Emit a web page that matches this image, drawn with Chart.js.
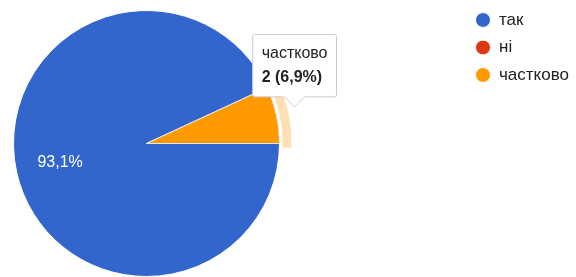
<!DOCTYPE html>
<html>
<head>
<meta charset="utf-8">
<script src="https://cdn.jsdelivr.net/npm/chart.js@4/dist/chart.umd.min.js"></script>
<style>
  body { margin: 0; background: #fff; }
  #wrap { width: 576px; height: 277px; position: relative; }
</style>
</head>
<body>
<div id="wrap"><canvas id="pie"></canvas></div>
<script>
'use strict';

const labels = ['так', 'ні', 'частково'];
const values = [27, 0, 2];
const colors = ['#3366cc', '#dc3912', '#ff9900'];
const hoverRing = 'rgba(255,153,0,0.3)';
const fontFamily = '"Liberation Sans", Arial, sans-serif';

const total = values.reduce((a, b) => a + b, 0);

function pct(v){
    return (v / total * 100).toFixed(1).replace('.', ',') + '%';
}

// white percent text inside big slices
const sliceLabels = {
    id: 'sliceLabels',
    afterDatasetsDraw(chart){
        const ctx = chart.ctx;
        chart.getDatasetMeta(0).data.forEach((arc, i) => {
            if(values[i] / total < 0.1)
                return;
            const p = arc.getProps(['x', 'y', 'startAngle', 'endAngle', 'outerRadius'], true);
            const mid = (p.startAngle + p.endAngle) / 2;
            const r = p.outerRadius * 0.665;
            ctx.save();
            ctx.fillStyle = '#fff';
            ctx.font = '16px ' + fontFamily;
            ctx.textAlign = 'center';
            ctx.textBaseline = 'middle';
            ctx.fillText(pct(values[i]), p.x + Math.cos(mid) * r, p.y + Math.sin(mid) * r);
            ctx.restore();
        });
    }
};

// light band round the hovered slice
const hoverBand = {
    id: 'hoverBand',
    afterDatasetsDraw(chart){
        const ctx = chart.ctx;
        chart.getActiveElements().forEach(a => {
            const p = a.element.getProps(['x', 'y', 'startAngle', 'endAngle', 'outerRadius'], true);
            ctx.save();
            ctx.beginPath();
            ctx.arc(p.x, p.y, p.outerRadius + 12, p.startAngle - 0.03, p.endAngle + 0.03);
            ctx.arc(p.x, p.y, p.outerRadius + 3, p.endAngle + 0.03, p.startAngle - 0.03, true);
            ctx.closePath();
            ctx.fillStyle = hoverRing;
            ctx.fill();
            ctx.restore();
        });
    }
};

// legend sits far right, away from the pie
const moveLegend = {
    id: 'moveLegend',
    afterLayout(chart){
        const lg = chart.legend;
        const h = lg.height;
        lg.left = 465;
        lg.right = chart.width;
        lg.width = lg.right - lg.left;
        lg.top = 1;
        lg.bottom = lg.top + h;
    }
};

Chart.Tooltip.positioners.slice = function(elements){
    if(!elements.length)
        return false;
    const p = elements[0].element.getProps(['x', 'y', 'startAngle', 'endAngle', 'outerRadius'], true);
    const mid = (p.startAngle + p.endAngle) / 2 - 0.05;
    const r = p.outerRadius + 6;
    return { x: p.x + Math.cos(mid) * r + 14, y: p.y + Math.sin(mid) * r };
};

const chart = new Chart(document.getElementById('pie'), {
    type: 'pie',
    data: {
        labels: labels,
        datasets: [{
            data: values,
            backgroundColor: colors,
            hoverBackgroundColor: colors,
            borderColor: '#fff',
            borderWidth: 1,
            hoverBorderWidth: 1,
            hoverOffset: 0
        }]
    },
    options: {
        responsive: true,
        maintainAspectRatio: false,
        animation: false,
        rotation: 90,
        layout: { padding: { top: 10, bottom: 0, left: 13, right: 206 } },
        events: [],
        plugins: {
            legend: {
                position: 'right',
                align: 'start',
                maxWidth: 90,
                labels: {
                    usePointStyle: true,
                    pointStyle: 'circle',
                    pointStyleWidth: 15,
                    boxHeight: 10.5,
                    padding: 10.5,
                    color: '#222',
                    font: { family: fontFamily, size: 17 }
                }
            },
            tooltip: {
                position: 'slice',
                xAlign: 'center',
                yAlign: 'bottom',
                backgroundColor: '#fff',
                borderColor: '#ccc',
                borderWidth: 1,
                cornerRadius: 2,
                caretSize: 10,
                caretPadding: 0,
                displayColors: false,
                titleColor: '#222',
                bodyColor: '#222',
                titleFont: { family: fontFamily, size: 16, weight: 'normal' },
                bodyFont: { family: fontFamily, size: 16, weight: 'bold' },
                titleMarginBottom: 4,
                padding: { left: 9, right: 9, top: 10, bottom: 10 },
                callbacks: {
                    title: items => items[0].label,
                    label: item => item.raw + ' (' + pct(item.raw) + ')'
                }
            }
        }
    },
    plugins: [sliceLabels, hoverBand, moveLegend]
});

const active = [{ datasetIndex: 0, index: 2 }];
chart.setActiveElements(active);
chart.tooltip.setActiveElements(active, { x: 0, y: 0 });
chart.update();
</script>
</body>
</html>
